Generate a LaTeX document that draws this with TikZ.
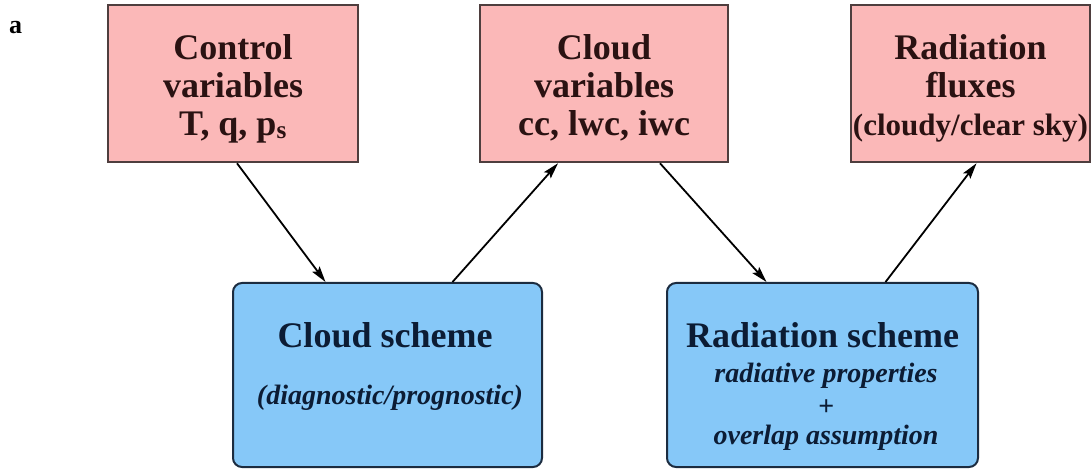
\documentclass[tikz,border=0pt]{standalone}
\usepackage{fontspec}
\setmainfont{Liberation Serif}
\usetikzlibrary{arrows.meta}
\definecolor{pinkfill}{HTML}{FBB8B8}
\definecolor{pinkdraw}{HTML}{4E3E3E}
\definecolor{bluefill}{HTML}{86C8F8}
\definecolor{bluedraw}{HTML}{1C2C40}
\definecolor{pinktext}{HTML}{2A1212}
\definecolor{bluetext}{HTML}{0C1C34}
\begin{document}
\begin{tikzpicture}[x=1pt,y=-1pt,
  varbox/.style={draw=pinkdraw, fill=pinkfill, line width=2.5pt, inner sep=0pt},
  vartext/.style={text=pinktext, font=\fontsize{36}{38}\selectfont\bfseries, align=center, inner sep=0pt},
  schemebox/.style={draw=bluedraw, fill=bluefill, line width=2pt, rounded corners=9pt, inner sep=0pt},
  schemetitle/.style={text=bluetext, font=\fontsize{36}{40}\selectfont\bfseries, anchor=base, inner sep=0pt},
  schemenote/.style={text=bluetext, font=\fontsize{28}{32}\selectfont\bfseries\itshape, anchor=base, inner sep=0pt},
  flow/.style={-{Stealth[length=16pt,width=9pt,inset=3pt]}, line width=1.8pt, black}]
\useasboundingbox (0,0) rectangle (1092,470);

\node[anchor=base west, font=\fontsize{26}{30}\selectfont\bfseries, inner sep=0pt] (lab) at (9,34) {a};

% top boxes
\node[varbox, minimum width=250pt, minimum height=157pt] (ctrl) at (233,83.5) {};
\node[vartext] (ctrlt) at (233,88.5) {Control\\variables\\T, q, p\textsubscript{s}};

\node[varbox, minimum width=248pt, minimum height=157pt] (cv) at (604,83.5) {};
\node[vartext] (cvt) at (604,87.5) {Cloud\\variables\\cc, lwc, iwc};

\node[varbox, minimum width=239pt, minimum height=157pt] (rf) at (970.5,83.5) {};
\node[vartext] (rft) at (970.5,88) {Radiation\\fluxes\\{\fontsize{31}{38}\selectfont (cloudy/clear sky)}};

% bottom boxes
\node[schemebox, minimum width=309pt, minimum height=184pt] (cs) at (387.5,375) {};
\node[schemetitle] (cst) at (385,347) {Cloud scheme};
\node[schemenote] (csn) at (390,404) {(diagnostic/prognostic)};

\node[schemebox, minimum width=311pt, minimum height=184pt] (rs) at (822.5,375) {};
\node[schemetitle] (rst) at (822.5,347) {Radiation scheme};
\node[schemenote] (rsn1) at (826,382) {radiative properties};
\node[schemenote] (rsp) at (826,415) {+};
\node[schemenote] (rsn2) at (826,444) {overlap assumption};

% connectors
\draw[flow] ([xshift=4pt]ctrl.south) -- ([xshift=-62pt]cs.north);
\draw[flow] ([xshift=65pt]cs.north) -- ([xshift=-46pt]cv.south);
\draw[flow] ([xshift=56pt]cv.south) -- ([xshift=-56pt]rs.north);
\draw[flow] ([xshift=63pt]rs.north) -- ([xshift=6pt]rf.south);
\end{tikzpicture}
\end{document}
